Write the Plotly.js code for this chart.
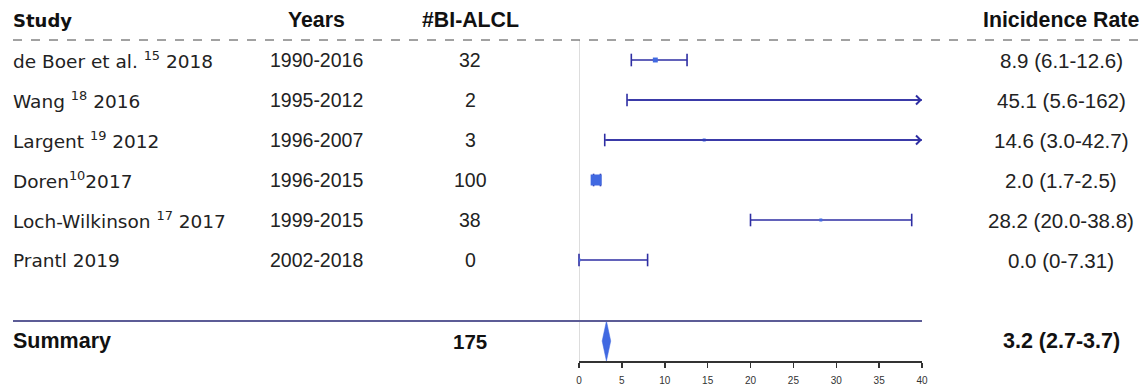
<!DOCTYPE html>
<html><head><meta charset="utf-8">
<script src="https://cdn.plot.ly/plotly-3.0.1.min.js"></script>
<style>html,body{margin:0;padding:0;background:#fff;}#chart{width:1146px;height:385px;}</style>
</head><body><div id="chart"></div>
<script>
// ---- data ----
const studies = ["de Boer et al. <sup>15</sup> 2018", "Wang <sup>18</sup> 2016", "Largent <sup>19</sup> 2012", "Doren<sup>10</sup>2017", "Loch-Wilkinson <sup>17</sup> 2017", "Prantl 2019"];
const years = ["1990-2016", "1995-2012", "1996-2007", "1996-2015", "1999-2015", "2002-2018"];
const cases = [32, 2, 3, 100, 38, 0];
const rate = [8.9, 45.1, 14.6, 2.0, 28.2, 0.0];
const lower = [6.1, 5.6, 3.0, 1.7, 20.0, 0];
const upper = [12.6, 162, 42.7, 2.5, 38.8, 8.0];
const rateLabels = ["8.9 (6.1-12.6)", "45.1 (5.6-162)", "14.6 (3.0-42.7)", "2.0 (1.7-2.5)", "28.2 (20.0-38.8)", "0.0 (0-7.31)"];
const weights = [17, 1, 2, 84, 5, 3];
const summaryName = "Summary";
const summaryCases = 175;
const summaryRate = 3.2;
const summaryLower = 2.7;
const summaryUpper = 3.7;
const summaryLabel = "3.2 (2.7-3.7)";
const headers = ["Study", "Years", "#BI-ALCL", "Inicidence Rate"];
const xTicks = [0, 5, 10, 15, 20, 25, 30, 35, 40];

// ---- layout constants ----
const W = 1146, H = 385;
const XMAX = 40;
const axL = 579 / W, axR = 922 / W;
const colStudy = 11 / W, colYears = 316 / W, colCases = 470 / W, colRate = 1061 / W;
const headerRow = -1.0, sepRow = -0.5;
const n = studies.length;
const summaryRow = n + 1.025;
const yBottom = n + 1.525;
const ciColor = '#2e2ea3', ptColor = '#4169e1';
const sans = '"Liberation Sans", Arial, sans-serif';
const dejavu = '"DejaVu Sans", sans-serif';

const rows = studies.map((_, i) => i);

// CI lines
const lx = [], ly = [];
rows.forEach(i => { lx.push(lower[i], Math.min(upper[i], XMAX), null); ly.push(i, i, null); });
const ciTrace = {x: lx, y: ly, mode: 'lines', line: {color: ciColor, width: 1.6}, cliponaxis: false, hoverinfo: 'skip', showlegend: false};

// caps
const cx = [], cy = [];
rows.forEach(i => {
  if (lower[i] >= 0 && lower[i] <= XMAX) { cx.push(lower[i]); cy.push(i); }
  if (upper[i] <= XMAX) { cx.push(upper[i]); cy.push(i); }
});
const capTrace = {x: cx, y: cy, mode: 'markers', marker: {symbol: 'line-ns-open', size: 9, color: ciColor, opacity: 1, line: {color: ciColor, width: 1.6}}, cliponaxis: false, hoverinfo: 'skip', showlegend: false};

// points
const ptTrace = {x: rate, y: rows, mode: 'markers', marker: {symbol: 'square', color: ptColor, opacity: 1, size: weights.map(w => Math.max(3, 1.2 * Math.sqrt(w))), line: {width: 0}}, cliponaxis: true, hoverinfo: 'skip', showlegend: false};

// summary diamond
const dTrace = {x: [summaryLower, summaryRate, summaryUpper, summaryRate, summaryLower], y: [summaryRow, summaryRow - 0.5, summaryRow, summaryRow + 0.5, summaryRow], mode: 'lines', fill: 'toself', fillcolor: ptColor, line: {color: ptColor, width: 0.5}, cliponaxis: false, hoverinfo: 'skip', showlegend: false};

const ann = [];
function txt(x, y, text, anchor, font) { ann.push({xref: 'paper', yref: 'y', x: x, y: y, text: text, showarrow: false, xanchor: anchor, yanchor: 'middle', font: font}); }
const hdrFont = {family: sans, size: 21.3, color: '#111'};
txt(colStudy, headerRow, '<b>' + headers[0] + '</b>', 'left', {family: dejavu, size: 18, color: '#111'});
txt(colYears, headerRow, '<b>' + headers[1] + '</b>', 'center', hdrFont);
txt(colCases, headerRow, '<b>' + headers[2] + '</b>', 'center', hdrFont);
txt(colRate, headerRow, '<b>' + headers[3] + '</b>', 'center', hdrFont);
rows.forEach(i => {
  txt(colStudy, i, studies[i], 'left', {family: dejavu, size: 18.5, color: '#222'});
  txt(colYears, i, years[i], 'center', {family: sans, size: 19.5, color: '#222'});
  txt(colCases, i, String(cases[i]), 'center', {family: sans, size: 19.5, color: '#222'});
  txt(colRate, i, rateLabels[i], 'center', {family: sans, size: 20.5, color: '#222'});
  if (upper[i] > XMAX) {
    ann.push({xref: 'x', yref: 'y', axref: 'x', ayref: 'y', x: XMAX, y: i, ax: lower[i], ay: i, text: '', showarrow: true, arrowhead: 4, arrowsize: 1.1, arrowwidth: 1.6, arrowcolor: ciColor, standoff: 0});
  }
});
const sumFont = {family: sans, size: 21.5, color: '#111'};
txt(colStudy, summaryRow, '<b>' + summaryName + '</b>', 'left', sumFont);
txt(colCases, summaryRow, '<b>' + summaryCases + '</b>', 'center', {family: sans, size: 20.5, color: '#111'});
txt(colRate, summaryRow, '<b>' + summaryLabel + '</b>', 'center', sumFont);

const shapes = [
  {type: 'line', xref: 'paper', yref: 'y', x0: 13 / W, x1: 1, y0: sepRow, y1: sepRow, line: {color: '#444', width: 1, dash: 'dash'}},
  {type: 'line', xref: 'x', yref: 'y', x0: 0, x1: 0, y0: sepRow, y1: yBottom, line: {color: '#d2d2d2', width: 1.5}, layer: 'below'},
  {type: 'line', xref: 'paper', yref: 'y', x0: 13 / W, x1: axR, y0: summaryRow - 0.5, y1: summaryRow - 0.5, line: {color: '#5c5c96', width: 2}}
];

const layout = {
  width: W, height: H,
  margin: {l: 0, r: 0, t: 0, b: 0},
  paper_bgcolor: '#fff', plot_bgcolor: '#fff',
  showlegend: false,
  xaxis: {domain: [axL, axR], range: [0, XMAX], tickvals: xTicks, ticktext: xTicks.map(String), showgrid: false, zeroline: false, showline: true, linecolor: '#333', linewidth: 1.5, ticks: 'outside', ticklen: 5, tickwidth: 1.5, tickcolor: '#333', ticklabelstandoff: 4, tickfont: {family: sans, size: 10, color: '#333'}, fixedrange: true},
  yaxis: {domain: [24 / H, 1], range: [yBottom, -1.5], visible: false, showgrid: false, zeroline: false, fixedrange: true},
  annotations: ann,
  shapes: shapes
};
Plotly.newPlot('chart', [ciTrace, capTrace, ptTrace, dTrace], layout, {displayModeBar: false, staticPlot: true});
</script></body></html>
